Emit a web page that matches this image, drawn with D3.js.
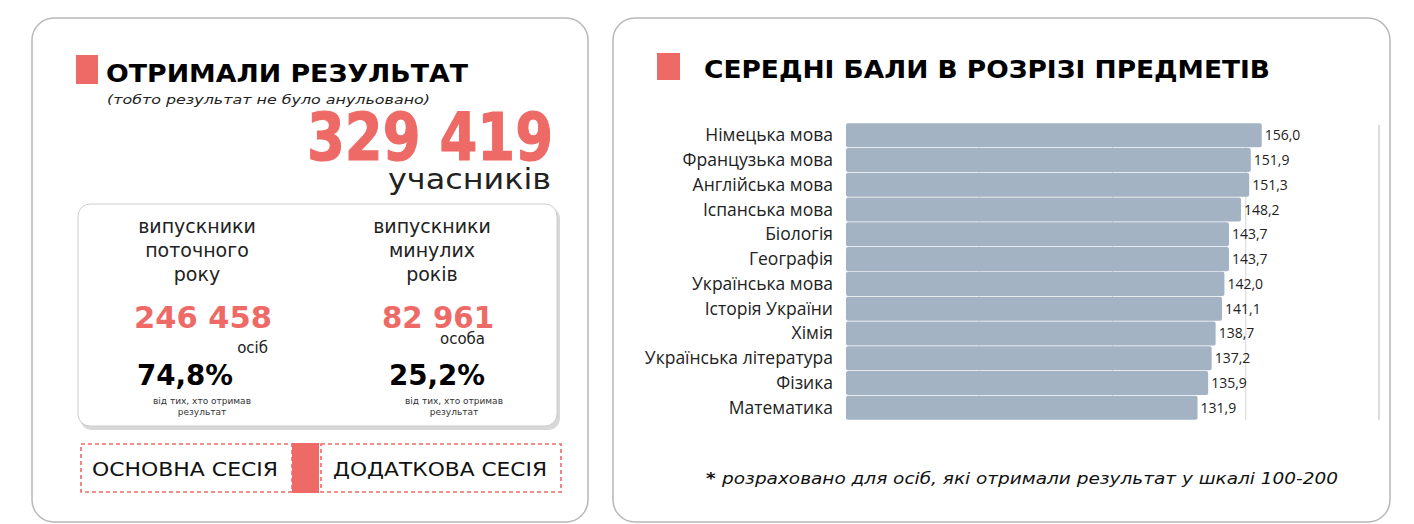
<!DOCTYPE html>
<html><head><meta charset="utf-8">
<script src="https://cdn.jsdelivr.net/npm/d3@7"></script>
<style>body{margin:0;background:#fff}svg{font-family:"DejaVu Sans",sans-serif}.lab{font-family:"Open Sans",sans-serif}</style>
</head><body><div id="chart"></div>
<script>
const subjects = ['Німецька мова','Французька мова','Англійська мова','Іспанська мова','Біологія','Географія','Українська мова','Історія України','Хімія','Українська література','Фізика','Математика'];
const scores = [156.0,151.9,151.3,148.2,143.7,143.7,142.0,141.1,138.7,137.2,135.9,131.9];
const gridTicks = [50,100,150,200];
const Red = '#ee6a66', BarColor = '#a3b3c4';

const svg = d3.select('#chart').append('svg').attr('width',1414).attr('height',524);
const fmt = v => v.toFixed(1).replace('.', ',');

// cards
svg.append('rect').attr('x',32).attr('y',18).attr('width',556).attr('height',504).attr('rx',22)
  .attr('fill','#fff').attr('stroke','#b8b8b8').attr('stroke-width',1.5);
svg.append('rect').attr('x',613).attr('y',18).attr('width',777).attr('height',504).attr('rx',22)
  .attr('fill','#fff').attr('stroke','#b8b8b8').attr('stroke-width',1.5);

// left panel
const L = svg.append('g');
L.append('rect').attr('x',76).attr('y',55).attr('width',22).attr('height',29).attr('fill',Red);
L.append('text').attr('x',106).attr('y',82).attr('font-size',25).attr('font-weight',700).attr('textLength',362).attr('lengthAdjust','spacingAndGlyphs').text('ОТРИМАЛИ РЕЗУЛЬТАТ');
L.append('text').attr('x',107).attr('y',104).attr('font-size',13).attr('font-style','italic').attr('fill','#222').attr('textLength',323).attr('lengthAdjust','spacingAndGlyphs').text('(тобто результат не було анульовано)');
L.append('text').attr('x',553).attr('y',160).attr('text-anchor','end').attr('font-size',65).attr('font-weight',700).attr('fill',Red)
  .attr('stroke',Red).attr('stroke-width',1.2).attr('textLength',246).attr('lengthAdjust','spacingAndGlyphs').text('329 419');
L.append('text').attr('x',551).attr('y',189).attr('text-anchor','end').attr('font-size',28).attr('fill','#222').attr('textLength',163).attr('lengthAdjust','spacingAndGlyphs').text('учасників');

L.append('rect').attr('x',80).attr('y',207).attr('width',480).attr('height',223).attr('rx',12).attr('fill','#d8d8d8');
L.append('rect').attr('x',78).attr('y',204).attr('width',479).attr('height',222).attr('rx',12).attr('fill','#fff').attr('stroke','#ccc');

const cols = [
  {cx:197, lines:['випускники','поточного','року'], num:'246 458', nl:138, unit:'осіб', ux:268, uy:353, pct:'74,8%', pl:96, px:185},
  {cx:432, lines:['випускники','минулих','років'], num:'82 961', nl:112, unit:'особа', ux:485, uy:344, pct:'25,2%', pl:96, px:437}
];
cols.forEach(c => {
  c.lines.forEach((t,i) => L.append('text').attr('x',c.cx).attr('y',233+i*24).attr('text-anchor','middle').attr('font-size',19).attr('fill','#222').text(t));
  L.append('text').attr('x',c.cx+6).attr('y',328).attr('text-anchor','middle').attr('font-size',31).attr('font-weight',700).attr('fill',Red).attr('textLength',c.nl).attr('lengthAdjust','spacingAndGlyphs').text(c.num);
  L.append('text').attr('x',c.ux).attr('y',c.uy).attr('text-anchor','end').attr('font-size',15).attr('fill','#222').text(c.unit);
  L.append('text').attr('x',c.px).attr('y',385).attr('text-anchor','middle').attr('font-size',28).attr('font-weight',700).attr('textLength',c.pl).attr('lengthAdjust','spacingAndGlyphs').text(c.pct);
  L.append('text').attr('x',c.px+17).attr('y',404).attr('text-anchor','middle').attr('font-size',9).attr('fill','#333').text('від тих, хто отримав');
  L.append('text').attr('x',c.px+17).attr('y',415).attr('text-anchor','middle').attr('font-size',9).attr('fill','#333').text('результат');
});

L.append('rect').attr('x',292).attr('y',443).attr('width',27).attr('height',50).attr('fill',Red);
[[81,211,'ОСНОВНА СЕСІЯ',185,186],[321,240,'ДОДАТКОВА СЕСІЯ',440,214]].forEach(([x,w,t,tx,tl]) => {
  L.append('rect').attr('x',x).attr('y',444).attr('width',w).attr('height',48).attr('fill','none')
    .attr('stroke',Red).attr('stroke-width',1.6).attr('stroke-dasharray','4,3');
  L.append('text').attr('x',tx).attr('y',476).attr('text-anchor','middle').attr('font-size',19).attr('fill','#111')
    .attr('textLength',tl).attr('lengthAdjust','spacingAndGlyphs').text(t);
});

// right panel
const R = svg.append('g');
R.append('rect').attr('x',657).attr('y',53).attr('width',23).attr('height',27).attr('fill',Red);
R.append('text').attr('x',704).attr('y',78).attr('font-size',25).attr('font-weight',700).attr('textLength',566).attr('lengthAdjust','spacingAndGlyphs').text('СЕРЕДНІ БАЛИ В РОЗРІЗІ ПРЕДМЕТІВ');

const x = d3.scaleLinear().domain([0,200]).range([846,1379]);
const y = d3.scaleBand().domain(subjects).range([123,420]).paddingInner(0.03).paddingOuter(0.01);

R.append('g').selectAll('line').data(gridTicks).join('line')
  .attr('x1',d=>x(d)).attr('x2',d=>x(d)).attr('y1',125).attr('y2',420)
  .attr('stroke',d=>d===200?'#bbb':'#d6d6d6').attr('stroke-width',1);

R.append('g').selectAll('rect').data(scores).join('rect')
  .attr('x',x(0)).attr('y',(d,i)=>y(subjects[i])).attr('width',d=>x(d)-x(0)).attr('height',y.bandwidth())
  .attr('rx',2).attr('fill',BarColor);

R.append('g').selectAll('text').data(scores).join('text').attr('class','lab')
  .attr('x',d=>x(d)+3).attr('y',(d,i)=>y(subjects[i])+y.bandwidth()/2+5)
  .attr('font-size',14).attr('fill','#222').text(fmt);

R.append('g').selectAll('text').data(subjects).join('text').attr('class','lab')
  .attr('x',833).attr('y',d=>y(d)+y.bandwidth()/2+6).attr('text-anchor','end')
  .attr('font-size',17.5).attr('fill','#222').text(d=>d);

const note = R.append('text').attr('x',1022).attr('y',484).attr('text-anchor','middle').attr('font-size',16).attr('font-style','italic').attr('fill','#111')
  .attr('textLength',632).attr('lengthAdjust','spacingAndGlyphs');
note.append('tspan').attr('font-weight',700).text('* ');
note.append('tspan').text('розраховано для осіб, які отримали результат у шкалі 100-200');
</script></body></html>
